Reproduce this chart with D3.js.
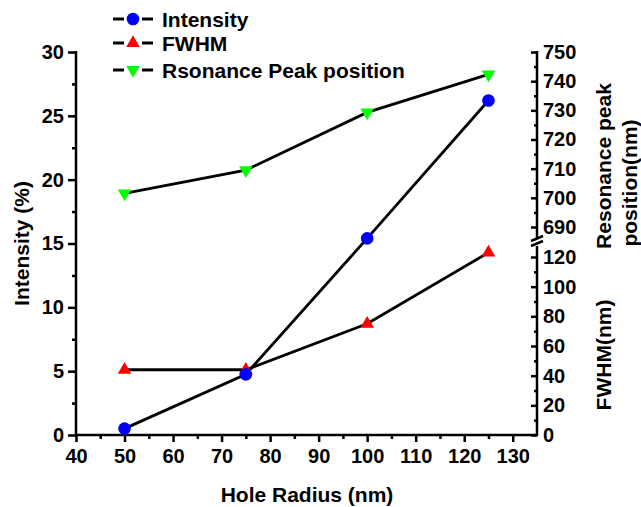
<!DOCTYPE html>
<html>
<head>
<meta charset="utf-8">
<script src="https://cdn.jsdelivr.net/npm/d3@7"></script>
<style>
  body { margin: 0; background: #fff; }
  svg text { font-family: "Liberation Sans", Arial, sans-serif; font-weight: bold; fill: #000; }
</style>
</head>
<body>
<div id="chart"></div>
<script>
// Data
const radius = [50, 75, 100, 125];
const intensity = [0.5, 4.75, 15.4, 26.2];
const fwhm = [44, 44, 75, 123];
const resonance = [701.5, 709.5, 729.3, 742.3];

const xTicks = [40, 50, 60, 70, 80, 90, 100, 110, 120, 130];
const intensityTicks = [0, 5, 10, 15, 20, 25, 30];
const fwhmTicks = [0, 20, 40, 60, 80, 100, 120];
const resonanceTicks = [690, 700, 710, 720, 730, 740, 750];

const W = 641, H = 507;
const plotL = 76, plotR = 537, plotT = 52, plotB = 435;
const breakTop = 227, breakBottom = 257; // y of 690 and 120

const svg = d3.select("#chart").append("svg")
    .attr("width", W)
    .attr("height", H);

svg.append("rect").attr("width", W).attr("height", H).attr("fill", "#fff");

// Scales
const x = d3.scaleLinear().domain([40, 135]).range([plotL, plotR]);
const yInt = d3.scaleLinear().domain([0, 30]).range([plotB, plotT]);
const yFwhm = d3.scaleLinear().domain([0, 120]).range([plotB, breakBottom]);
const yRes = d3.scaleLinear().domain([690, 750]).range([breakTop, plotT]);

const styleAxis = g => {
    g.select(".domain").remove();
    g.selectAll(".tick line").attr("stroke", "#000").attr("stroke-width", 2.5);
    g.selectAll(".tick text").style("font-size", "20px");
};

// Bottom axis
svg.append("g")
    .attr("transform", `translate(0, ${plotB})`)
    .call(d3.axisBottom(x).tickValues(d3.range(45, 135, 10)).tickSize(4).tickFormat(""))
    .call(styleAxis);
svg.append("g")
    .attr("transform", `translate(0, ${plotB})`)
    .call(d3.axisBottom(x).tickValues(xTicks).tickSize(7).tickPadding(7))
    .call(styleAxis);

// Left axis
svg.append("g")
    .attr("transform", `translate(${plotL}, 0)`)
    .call(d3.axisLeft(yInt).tickValues(d3.range(2.5, 30, 5)).tickSize(4).tickFormat(""))
    .call(styleAxis);
svg.append("g")
    .attr("transform", `translate(${plotL}, 0)`)
    .call(d3.axisLeft(yInt).tickValues(intensityTicks).tickSize(8).tickPadding(4))
    .call(styleAxis);

// Right axis, lower part (FWHM) - ticks point inward
svg.append("g")
    .attr("transform", `translate(${plotR}, 0)`)
    .call(d3.axisRight(yFwhm).tickValues(d3.range(10, 120, 20)).tickSize(-3).tickFormat(""))
    .call(styleAxis);
svg.append("g")
    .attr("transform", `translate(${plotR}, 0)`)
    .call(d3.axisRight(yFwhm).tickValues(fwhmTicks).tickSize(-6).tickPadding(6))
    .call(styleAxis);

// Right axis, upper part (resonance)
svg.append("g")
    .attr("transform", `translate(${plotR}, 0)`)
    .call(d3.axisRight(yRes).tickValues(d3.range(695, 750, 10)).tickSize(-3).tickFormat(""))
    .call(styleAxis);
svg.append("g")
    .attr("transform", `translate(${plotR}, 0)`)
    .call(d3.axisRight(yRes).tickValues(resonanceTicks).tickSize(-6).tickPadding(6))
    .call(styleAxis);

// Axis lines
const axisLine = (x1, y1, x2, y2) => svg.append("line")
    .attr("x1", x1).attr("y1", y1).attr("x2", x2).attr("y2", y2)
    .attr("stroke", "#000").attr("stroke-width", 2.5);
axisLine(plotL - 1, plotB, plotR + 1, plotB);
axisLine(plotL, plotT - 1, plotL, plotB + 1);
axisLine(plotR, plotT - 1, plotR, 239);
axisLine(plotR, 246, plotR, plotB + 1);

// Break marks
const bm = (breakTop + breakBottom) / 2;
axisLine(plotR - 6, bm - 1, plotR + 6, bm - 6);
axisLine(plotR - 6, bm + 4, plotR + 6, bm - 1);

// Series lines
const lineGen = ys => d3.line()
    .x((d, i) => x(radius[i]))
    .y(d => ys(d));

const drawLine = (vals, ys) => svg.append("path")
    .datum(vals)
    .attr("d", lineGen(ys))
    .attr("fill", "none")
    .attr("stroke", "#000")
    .attr("stroke-width", 2.8);

drawLine(resonance, yRes);
drawLine(fwhm, yFwhm);
drawLine(intensity, yInt);

// Markers
const tri = d3.symbol().type(d3.symbolTriangle).size(80);

svg.selectAll(".res").data(resonance).enter().append("path")
    .attr("class", "res")
    .attr("d", tri)
    .attr("transform", (d, i) => `translate(${x(radius[i])}, ${yRes(d)}) rotate(180)`)
    .attr("fill", "#00ff00");

svg.selectAll(".fw").data(fwhm).enter().append("path")
    .attr("class", "fw")
    .attr("d", tri)
    .attr("transform", (d, i) => `translate(${x(radius[i])}, ${yFwhm(d)})`)
    .attr("fill", "#ff0000");

svg.selectAll(".int").data(intensity).enter().append("circle")
    .attr("class", "int")
    .attr("cx", (d, i) => x(radius[i]))
    .attr("cy", d => yInt(d))
    .attr("r", 6.3)
    .attr("fill", "#0000ff");

// Legend
const legend = [
    { name: "Intensity", color: "#0000ff", shape: "circle", y: 19 },
    { name: "FWHM", color: "#ff0000", shape: "up", y: 43 },
    { name: "Rsonance Peak position", color: "#00ff00", shape: "down", y: 70 }
];
legend.forEach(l => {
    axisLine(113, l.y, 124, l.y).attr("stroke-width", 3);
    axisLine(142, l.y, 153, l.y).attr("stroke-width", 3);
    if (l.shape === "circle") {
        svg.append("circle").attr("cx", 133).attr("cy", l.y).attr("r", 6.3).attr("fill", l.color);
    } else {
        svg.append("path").attr("d", tri)
            .attr("transform", `translate(133, ${l.y}) ${l.shape === "down" ? "rotate(180)" : ""}`)
            .attr("fill", l.color);
    }
    svg.append("text")
        .attr("x", 162).attr("y", l.y)
        .attr("dy", "0.36em")
        .style("font-size", "21px")
        .text(l.name);
});

// Axis titles
svg.append("text")
    .attr("x", 307).attr("y", 502)
    .attr("text-anchor", "middle")
    .style("font-size", "21px")
    .text("Hole Radius (nm)");

svg.append("text")
    .attr("transform", `translate(29, ${(plotT + plotB) / 2}) rotate(-90)`)
    .attr("text-anchor", "middle")
    .style("font-size", "21px")
    .text("Intensity (%)");

svg.append("text")
    .attr("transform", `translate(611, 166) rotate(-90)`)
    .attr("text-anchor", "middle")
    .style("font-size", "21px")
    .text("Resonance peak");

svg.append("text")
    .attr("transform", `translate(637, 183) rotate(-90)`)
    .attr("text-anchor", "middle")
    .style("font-size", "21px")
    .text("position(nm)");

svg.append("text")
    .attr("transform", `translate(611, 355) rotate(-90)`)
    .attr("text-anchor", "middle")
    .style("font-size", "21px")
    .text("FWHM(nm)");
</script>
</body>
</html>
